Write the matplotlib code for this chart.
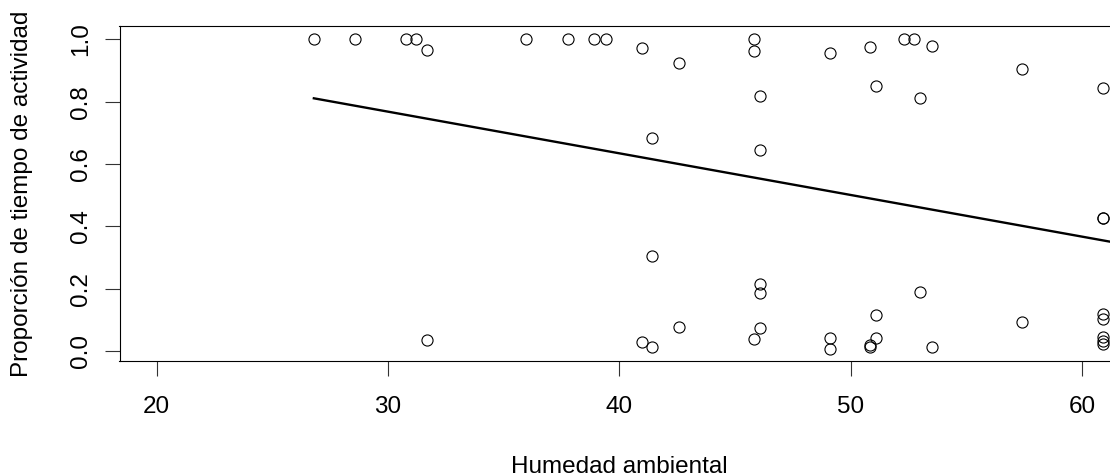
import numpy as np
import matplotlib
matplotlib.use("Agg")
import matplotlib.pyplot as plt

plt.rcParams['font.family'] = ['Liberation Sans', 'DejaVu Sans']

# humedad ambiental (%) y proporcion del tiempo activo
humedad = [26.80, 28.60, 30.77, 31.21, 31.69, 35.99, 37.80, 38.90, 39.42,
           41.00, 42.58, 45.81, 45.81, 46.10, 41.40, 46.10, 49.10, 50.83,
           51.11, 52.30, 52.73, 53.50, 53.02, 57.39, 60.91, 60.91, 60.91,
           41.40, 31.69, 41.00, 41.40, 42.58, 46.10, 46.10, 46.10, 45.81,
           53.02, 49.10, 49.10, 50.83, 50.83, 51.11, 51.11, 53.50, 57.39,
           60.91, 60.91, 60.91, 60.91, 60.91]
proporcion = [1.0, 1.0, 1.0, 1.0, 0.966, 1.0, 1.0, 1.0, 1.0,
              0.972, 0.925, 1.0, 0.963, 0.818, 0.684, 0.645, 0.955, 0.975,
              0.850, 1.0, 1.0, 0.978, 0.811, 0.906, 0.844, 0.428, 0.428,
              0.306, 0.034, 0.030, 0.014, 0.078, 0.215, 0.187, 0.073, 0.038,
              0.189, 0.041, 0.005, 0.020, 0.013, 0.115, 0.041, 0.014, 0.094,
              0.119, 0.102, 0.045, 0.033, 0.022]

# coeficientes del modelo lineal (intercepto, pendiente)
coef = [1.1693, -0.01337]

x_ticks = [20, 30, 40, 50, 60]
y_ticks = [0.0, 0.2, 0.4, 0.6, 0.8, 1.0]

x = np.array(humedad)
y = np.array(proporcion)

fig = plt.figure(figsize=(11.10, 4.76), dpi=100)
# the plot box runs slightly past the right edge of the figure
ax = fig.add_axes([119.5 / 1110, 1 - 361.3 / 476, 999.5 / 1110, 335.3 / 476])

ax.plot(x, y, 'o', ms=8, mfc='none', mec='black', mew=0.8)

xlo, xhi = 18.4, 61.6
xs = np.array([x.min(), xhi])
ax.plot(xs, coef[0] + coef[1] * xs, color='black', lw=1.7)

ax.set_xlim(xlo, xhi)
ax.set_ylim(-0.033, 1.043)
ax.set_xticks(x_ticks)
ax.set_yticks(y_ticks)
ax.set_xticklabels([str(v) for v in x_ticks])
ax.set_yticklabels([f"{v:.1f}" for v in y_ticks], rotation=90, va='center')

for s in ax.spines.values():
    s.set_linewidth(0.8)
ax.tick_params(axis='both', length=10.5, width=0.8, labelsize=17.5, color='#333333')
ax.tick_params(axis='x', pad=14.8)
ax.tick_params(axis='y', pad=9)

ax.set_xlabel('Humedad ambiental', fontsize=17.5)
ax.set_ylabel('Proporción de tiempo de actividad', fontsize=17.5)
ax.xaxis.set_label_coords(0.5, -0.282)
ax.yaxis.set_label_coords(-0.087, 0.5)

fig.savefig('out.png', dpi=100)
